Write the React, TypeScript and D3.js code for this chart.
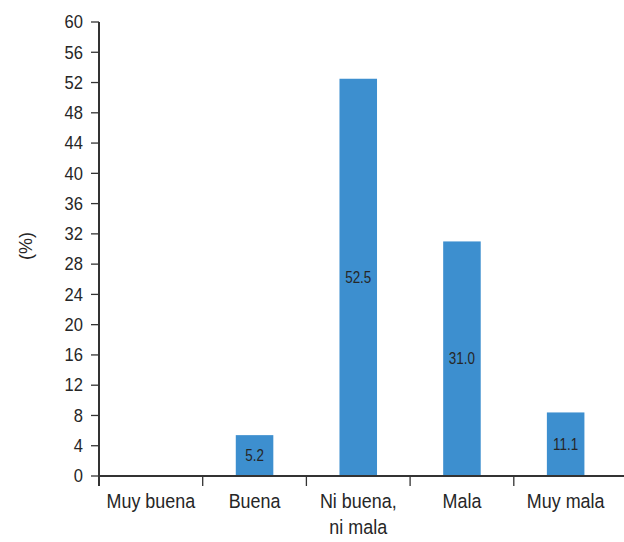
import React from 'react';
import * as d3 from 'd3';

// categories and values
const categories = ['Muy buena', 'Buena', 'Ni buena, ni mala', 'Mala', 'Muy mala'];
const categoryLines = [['Muy buena'], ['Buena'], ['Ni buena,', 'ni mala'], ['Mala'], ['Muy mala']];
const barValues = [0, 5.4, 52.5, 31.0, 8.4];
const barLabels = ['', '5.2', '52.5', '31.0', '11.1'];
const yTicks = [0, 4, 8, 12, 16, 20, 24, 28, 32, 36, 40, 44, 48, 52, 56, 60];

const W = 624;
const H = 542;
const M = { left: 99, right: 6.5, top: 22, bottom: 66 };
const FONT = '"Liberation Sans", Arial, sans-serif';
const BAR = '#3d8fcf';
const AXIS = '#333333';
const TXT = '#262626';

export default function App() {
  const x = d3.scaleBand<string>().domain(categories).range([M.left, W - M.right]).padding(0);
  const y = d3.scaleLinear().domain([0, 60]).range([H - M.bottom, M.top]);
  const barW = x.bandwidth() * 0.362;
  const y0 = y(0);
  const mid = (c: string) => (x(c) as number) + x.bandwidth() / 2;

  return (
    <svg
      width={W}
      height={H}
      style={{ position: 'absolute', top: 0, left: 0, background: '#fff' }}
      fontFamily={FONT}
    >
      {/* bars */}
      {categories.map((c, i) => {
        const v = barValues[i];
        if (!v) return null;
        const cx = mid(c);
        return (
          <g key={c}>
            <rect x={cx - barW / 2} y={y(v)} width={barW} height={y0 - y(v)} fill={BAR} />
            <text
              transform={`translate(${cx},${(y(v) + y0) / 2}) scale(0.84,1)`}
              textAnchor="middle"
              dominantBaseline="central"
              fontSize={16}
              fill={TXT}
            >
              {barLabels[i]}
            </text>
          </g>
        );
      })}

      {/* y axis */}
      <line x1={M.left} x2={M.left} y1={y(60)} y2={y0 + 10} stroke={AXIS} strokeWidth={2} />
      {yTicks.map((t) => (
        <g key={t}>
          <line x1={M.left - 8} x2={M.left} y1={y(t)} y2={y(t)} stroke={AXIS} strokeWidth={1.3} />
          <text
            transform={`translate(${M.left - 16},${y(t)}) scale(0.92,1)`}
            textAnchor="end"
            dominantBaseline="central"
            fontSize={18}
            fill={TXT}
          >
            {t}
          </text>
        </g>
      ))}

      {/* x axis */}
      <line x1={M.left} x2={W} y1={y0} y2={y0} stroke={AXIS} strokeWidth={2} />
      {categories.slice(1).map((c) => (
        <line key={c} x1={x(c)} x2={x(c)} y1={y0} y2={y0 + 10} stroke={AXIS} strokeWidth={1.3} />
      ))}
      {categories.map((c, i) => (
        <g key={c} transform={`translate(${mid(c)},${y0 + 32}) scale(0.92,1)`}>
          <text textAnchor="middle" fontSize={19.5} fill={TXT}>
            {categoryLines[i].map((ln, k) => (
              <tspan key={k} x={0} dy={k === 0 ? 0 : 26}>
                {ln}
              </tspan>
            ))}
          </text>
        </g>
      ))}

      {/* y title */}
      <text
        transform="translate(26,246) rotate(-90)"
        textAnchor="middle"
        dominantBaseline="central"
        fontSize={18}
        fill={TXT}
      >
        (%)
      </text>
    </svg>
  );
}
